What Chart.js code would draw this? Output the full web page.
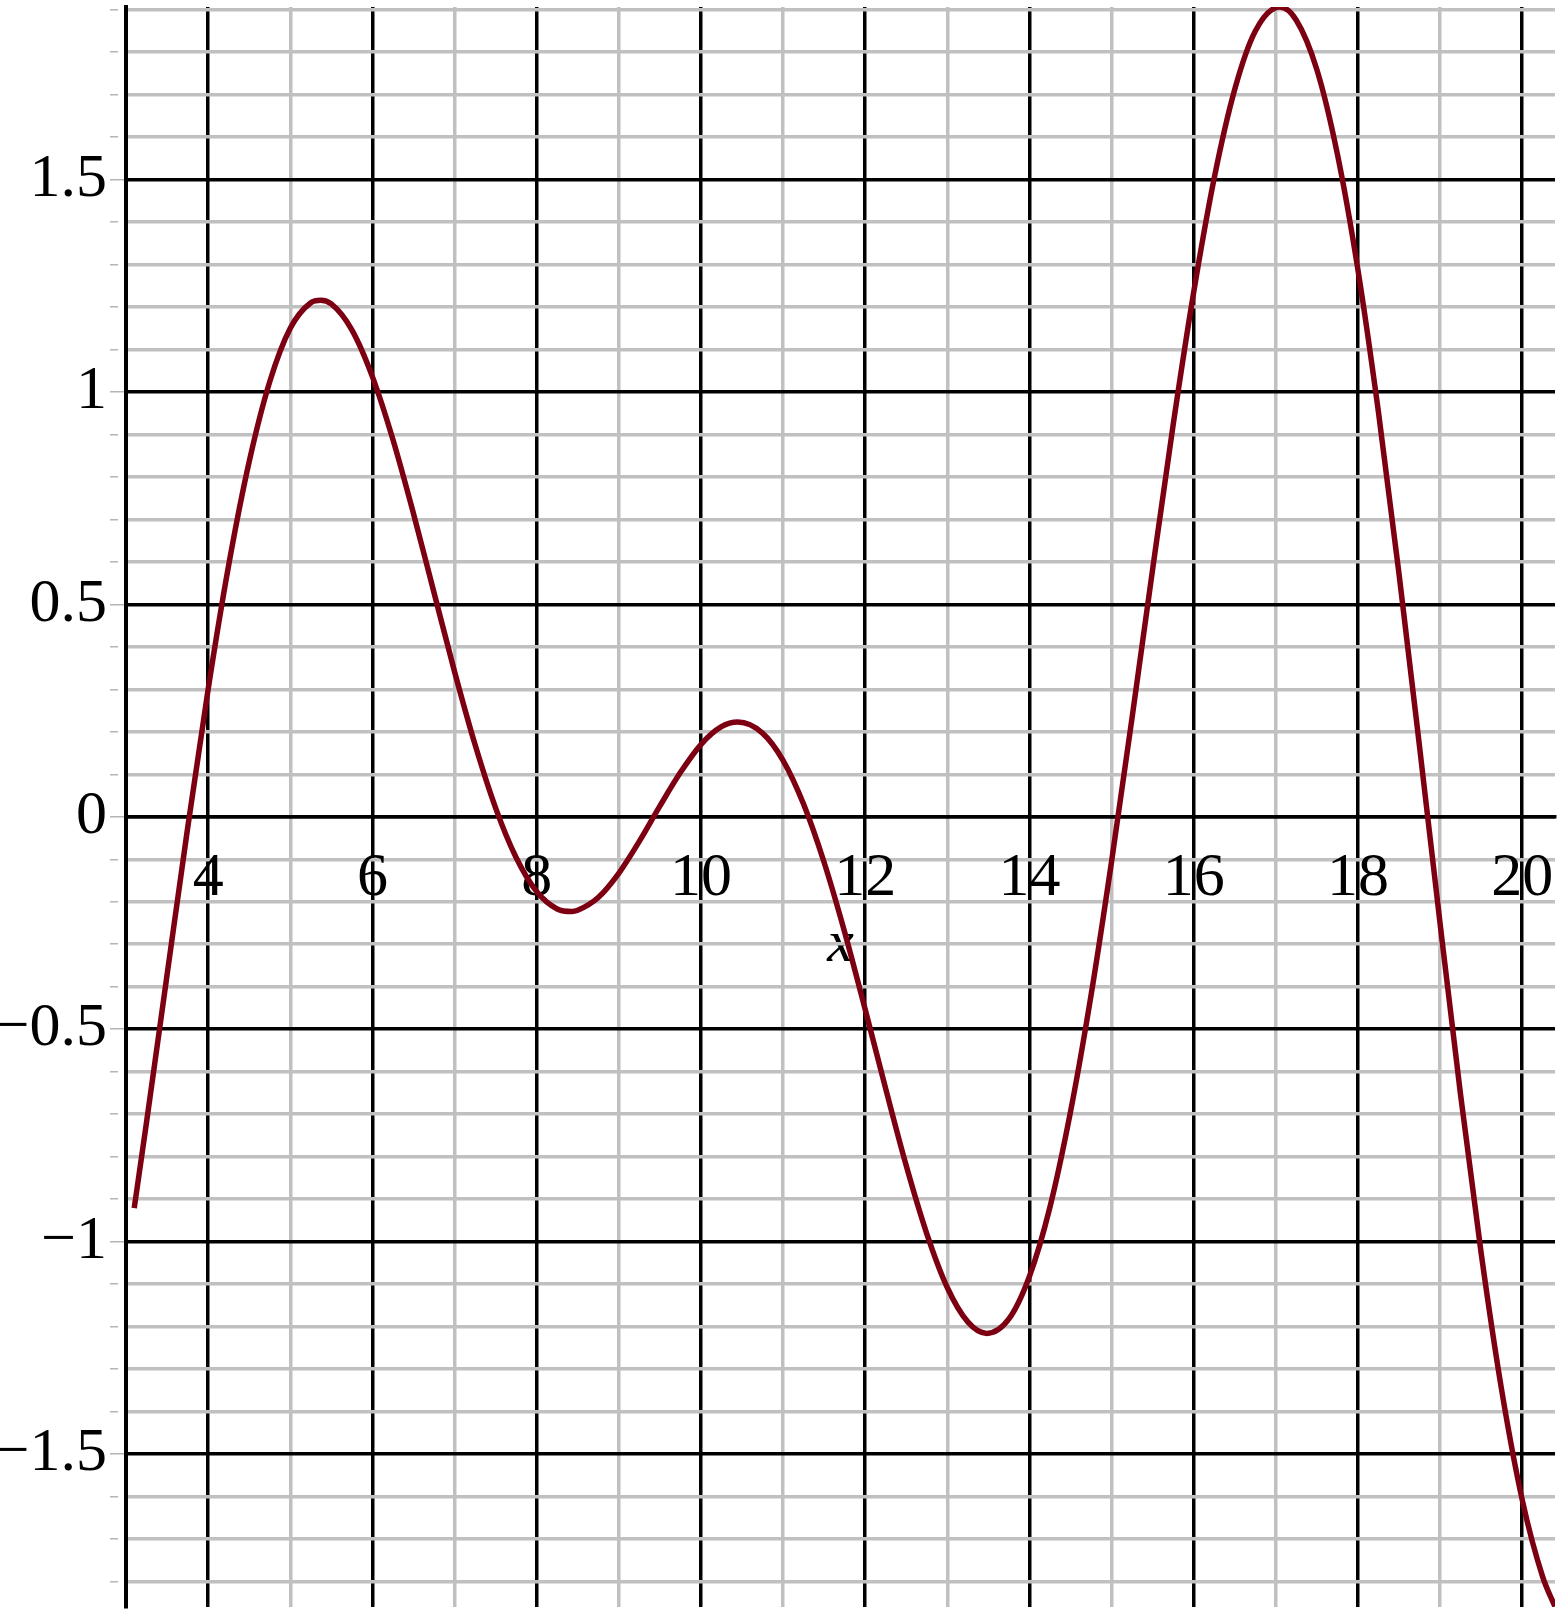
<!DOCTYPE html>
<html>
<head>
<meta charset="utf-8">
<script src="https://cdn.jsdelivr.net/npm/chart.js@4.4.1/dist/chart.umd.min.js"></script>
<style>
  html, body { margin: 0; padding: 0; background: #ffffff; }
  canvas { display: block; }
</style>
</head>
<body>
<canvas id="c" width="1560" height="1613"></canvas>
<script>
// ---- data ----
const xValues = [3.1, 3.25, 3.5, 3.75, 4.0, 4.25, 4.5, 4.75, 5.0, 5.25, 5.37, 5.5, 5.75, 6.0,
  6.25, 6.5, 6.75, 7.0, 7.25, 7.5, 7.75, 8.0, 8.25, 8.43, 8.5, 8.75, 9.0, 9.25, 9.5, 9.75, 10.0,
  10.25, 10.45, 10.75, 11.0, 11.25, 11.5, 11.75, 12.0, 12.25, 12.5, 12.75, 13.0, 13.25, 13.48,
  13.75, 14.0, 14.25, 14.5, 14.75, 15.0, 15.25, 15.5, 15.75, 16.0, 16.25, 16.5, 16.75, 17.05,
  17.25, 17.5, 17.75, 18.0, 18.25, 18.5, 18.75, 19.0, 19.25, 19.5, 19.75, 20.0, 20.25, 20.4];
const yValues = [-0.921, -0.719, -0.372, -0.027, 0.300, 0.592, 0.836, 1.024, 1.150, 1.210, 1.216, 1.207, 1.146, 1.036,
  0.888, 0.714, 0.528, 0.342, 0.170, 0.021, -0.096, -0.176, -0.217, -0.223, -0.220, -0.190, -0.133, -0.058, 0.025, 0.104, 0.170,
  0.212, 0.223, 0.197, 0.133, 0.030, -0.107, -0.271, -0.453, -0.640, -0.821, -0.981, -1.108, -1.189, -1.216,
  -1.182, -1.082, -0.919, -0.695, -0.421, -0.106, 0.233, 0.582, 0.922, 1.234, 1.503, 1.712, 1.849, 1.906,
  1.875, 1.759, 1.560, 1.288, 0.953, 0.573, 0.166, -0.250, -0.654, -1.026, -1.349, -1.607, -1.789, -1.859];
const xTickLabels = [4, 6, 8, 10, 12, 14, 16, 18, 20];
const yTickLabels = [-1.5, -1, -0.5, 0, 0.5, 1, 1.5];
const xAxisTitle = 'x';

// ---- styling ----
const SERIF = '"Liberation Serif", "Times New Roman", "DejaVu Serif", serif';
const BLACK = '#000000';
const GREY = '#c0c0c0';
const CURVE = '#7d0012';
const isMult = (v, m) => Math.abs(v / m - Math.round(v / m)) < 1e-6;
const fmtY = (v) => {
  const a = Math.round(Math.abs(v) * 10) / 10;
  return (v < -1e-9 ? '\u2212' : '') + String(a);
};

new Chart(document.getElementById('c'), {
  type: 'line',
  data: {
    datasets: [{
      data: xValues.map((x, i) => ({ x: x, y: yValues[i] })),
      borderColor: CURVE,
      borderWidth: 5.5,
      pointRadius: 0,
      cubicInterpolationMode: 'monotone',
      borderCapStyle: 'butt',
      fill: false
    }]
  },
  options: {
    responsive: false,
    animation: false,
    devicePixelRatio: 1,
    events: [],
    layout: { padding: { left: 0, right: 5, top: 7, bottom: 6 } },
    plugins: { legend: { display: false }, tooltip: { enabled: false } },
    scales: {
      x: {
        type: 'linear',
        position: { y: 0 },
        min: 3,
        max: 20.4,
        ticks: {
          stepSize: 1,
          includeBounds: false,
          autoSkip: false,
          maxRotation: 0,
          minRotation: 0,
          padding: 0,
          color: BLACK,
          font: { family: SERIF, size: 62, lineHeight: '124px' },
          callback: (v) => xTickLabels.some(t => Math.abs(t - v) < 1e-6) ? String(v) : ''
        },
        grid: {
          color: (c) => (isMult(c.tick.value, 2) || Math.abs(c.tick.value - 3) < 1e-6) ? BLACK : GREY,
          lineWidth: 3.5,
          drawTicks: false,
          z: -2
        },
        border: { display: true, color: BLACK, width: 3.5 },
        title: {
          display: true,
          text: xAxisTitle,
          color: BLACK,
          font: { family: SERIF, size: 60, style: 'italic', lineHeight: '8px' },
          padding: { top: 0, bottom: 0 }
        },
        afterFit: (s) => { s.paddingLeft = 0; s.paddingRight = 0; }
      },
      y: {
        type: 'linear',
        position: 'left',
        min: -1.86,
        max: 1.906,
        ticks: {
          stepSize: 0.1,
          includeBounds: false,
          autoSkip: false,
          padding: 3,
          color: BLACK,
          font: { family: SERIF, size: 62, lineHeight: '20px' },
          callback: (v) => yTickLabels.some(t => Math.abs(t - v) < 1e-6) ? fmtY(v) : ''
        },
        grid: {
          color: (c) => isMult(c.tick.value, 0.5) ? BLACK : GREY,
          lineWidth: 3.5,
          drawTicks: true,
          tickLength: 16,
          tickColor: '#b4b4b4',
          tickWidth: 1.5,
          tickBorderDash: (c) => isMult(c.tick.value, 0.5) ? [] : [8, 100],
          z: -1
        },
        border: { display: true, color: BLACK, width: 4 },
        afterFit: (s) => { s.width = 126; s.paddingTop = 0; s.paddingBottom = 0; }
      }
    }
  }
});
</script>
</body>
</html>
